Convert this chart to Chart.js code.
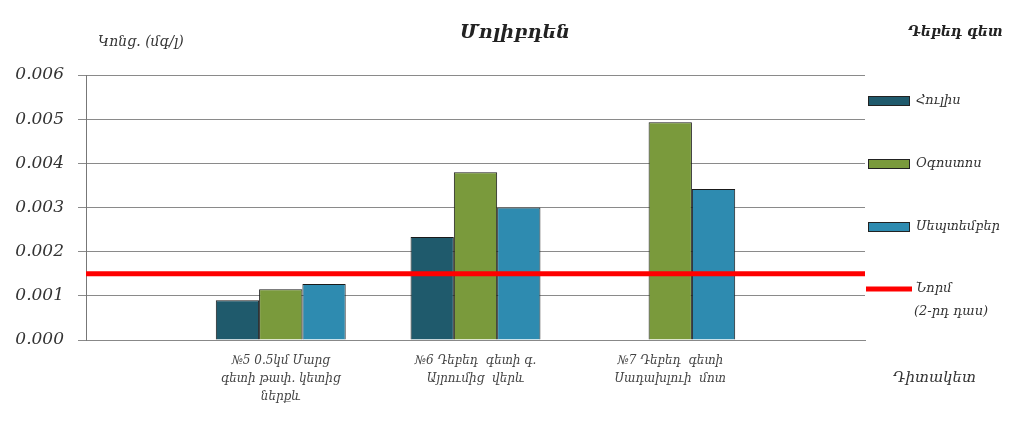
<!DOCTYPE html>
<html>
<head>
<meta charset="utf-8">
<script src="https://cdn.jsdelivr.net/npm/chart.js@4.4.1/dist/chart.umd.min.js"></script>
<style>
html,body{margin:0;padding:0;background:#fff;}
#wrap{width:1024px;height:421px;position:relative;}
</style>
</head>
<body>
<div id="wrap"><canvas id="c" width="1024" height="421"></canvas></div>
<script>
const categories = [
  '',
  ['№5 0.5կմ Մարց', 'գետի թափ. կետից', 'ներքև'],
  ['№6 Դեբեդ  գետի գ.', 'Այրումից  վերև'],
  ['№7 Դեբեդ  գետի', 'Սադախլուի  մոտ'],
  ''
];
const seriesNames = ['Հուլիս', 'Օգոստոս', 'Սեպտեմբեր', 'Նորմ', '(2-րդ դաս)'];
const julyValues = [null, 0.0009, 0.00233, null, null];
const augustValues = [null, 0.00115, 0.0038, 0.00493, null];
const septemberValues = [null, 0.00127, 0.0030, 0.00342, null];
const normValue = 0.0015;
const normValues = categories.map(() => normValue);
const yTicks = [0, 0.001, 0.002, 0.003, 0.004, 0.005, 0.006];

const FONT = "'DejaVu Serif', 'Liberation Serif', serif";
const colors = {
  july: '#1f5a6c',
  august: '#7a9a3c',
  september: '#2e8bb0',
  norm: '#ff0000'
};

const textPlugin = {
  id: 'texts',
  afterDraw(chart) {
    const ctx = chart.ctx;
    const ca = chart.chartArea;
    ctx.save();
    ctx.fillStyle = '#222';
    ctx.textBaseline = 'middle';
    // title
    ctx.font = "italic bold 19px " + FONT;
    ctx.textAlign = 'center';
    ctx.fillText('Մոլիբդեն', 515, 33);
    // y unit
    ctx.font = "italic 14px " + FONT;
    ctx.textAlign = 'left';
    ctx.fillStyle = '#333';
    ctx.fillText('Կոնց. (մգ/լ)', 98, 42);
    // river
    ctx.font = "italic bold 14px " + FONT;
    ctx.fillStyle = '#222';
    ctx.fillText('Դեբեդ գետ', 908, 32);
    // x axis title
    ctx.font = "italic 15px " + FONT;
    ctx.fillStyle = '#333';
    ctx.fillText('Դիտակետ', 893, 378);

    // legend
    const ds = chart.data.datasets;
    const items = [
      {y: 101, ds: ds[0]},
      {y: 164, ds: ds[1]},
      {y: 227, ds: ds[2]}
    ];
    ctx.font = "italic 13px " + FONT;
    items.forEach(it => {
      ctx.fillStyle = it.ds.backgroundColor;
      ctx.fillRect(868, it.y - 5, 42, 10);
      ctx.strokeStyle = '#222';
      ctx.lineWidth = 1;
      ctx.strokeRect(868.5, it.y - 4.5, 41, 9);
      ctx.fillStyle = '#333';
      ctx.fillText(it.ds.label, 916, it.y);
    });
    ctx.strokeStyle = ds[3].borderColor;
    ctx.lineWidth = 5;
    ctx.beginPath();
    ctx.moveTo(866, 289);
    ctx.lineTo(912, 289);
    ctx.stroke();
    ctx.fillStyle = '#333';
    ctx.fillText(seriesNames[3], 916, 289);
    ctx.fillText(seriesNames[4], 914, 312);
    ctx.restore();
  }
};

new Chart(document.getElementById('c'), {
  type: 'bar',
  data: {
    labels: categories,
    datasets: [
      {label: seriesNames[0], data: julyValues, backgroundColor: colors.july, borderColor: '#1a1a1a', borderWidth: 1, order: 2},
      {label: seriesNames[1], data: augustValues, backgroundColor: colors.august, borderColor: '#1a1a1a', borderWidth: 1, order: 2},
      {label: seriesNames[2], data: septemberValues, backgroundColor: colors.september, borderColor: '#1a1a1a', borderWidth: 1, order: 2},
      {type: 'line', label: seriesNames[3], data: normValues, borderColor: colors.norm, borderWidth: 5, pointRadius: 0, fill: false, order: 1}
    ]
  },
  options: {
    responsive: false,
    animation: false,
    devicePixelRatio: 1,
    layout: {padding: {top: 75, right: 159, left: 0, bottom: 0}},
    plugins: {legend: {display: false}, tooltip: {enabled: false}, title: {display: false}},
    datasets: {bar: {categoryPercentage: 0.667, barPercentage: 1.0}},
    scales: {
      x: {
        offset: false,
        grid: {display: false, drawTicks: false},
        border: {display: true, color: '#888', width: 1},
        ticks: {
          autoSkip: false, maxRotation: 0, minRotation: 0, padding: 12,
          color: '#444', font: {family: FONT, style: 'italic', size: 12, lineHeight: 1.5}
        },
        afterFit(s) { s.height = 81; }
      },
      y: {
        min: 0, max: 0.006,
        afterBuildTicks(s) { s.ticks = yTicks.map(v => ({value: v})); },
        grid: {color: '#8a8a8a', lineWidth: 1, drawTicks: true, tickLength: 8},
        border: {display: true, color: '#777', width: 1},
        ticks: {
          padding: 14, color: '#333',
          font: {family: FONT, style: 'italic', size: 17},
          callback: v => v.toFixed(3)
        },
        afterFit(s) { s.width = 86; }
      }
    }
  },
  plugins: [textPlugin]
});
</script>
</body>
</html>
